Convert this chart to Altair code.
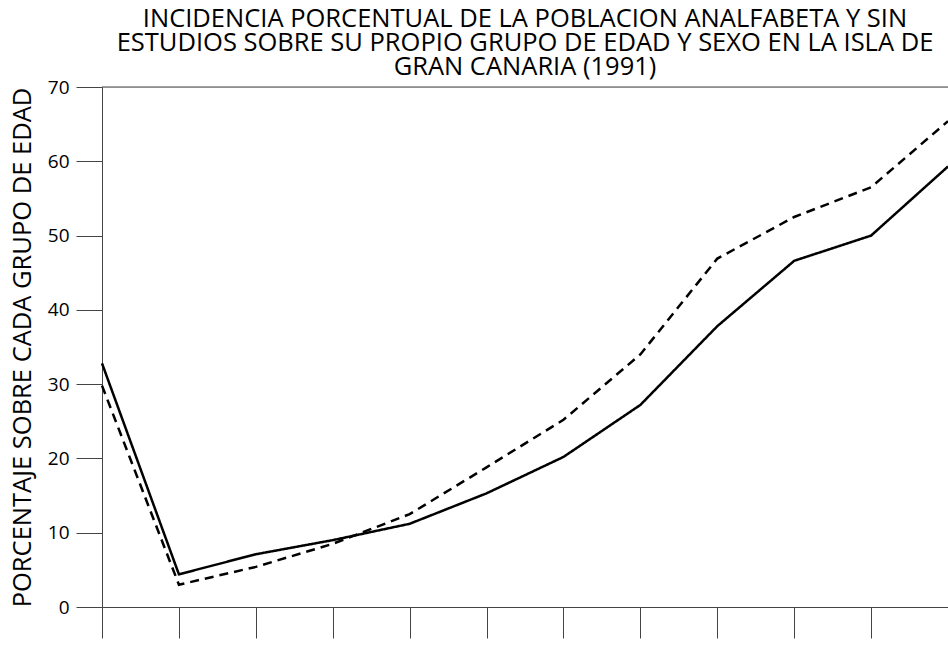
import altair as alt
import pandas as pd

# Age-group positions (no labels shown on the original x axis)
grupos = list(range(12))
serie_continua = [32.8, 4.4, 7.1, 9.0, 11.2, 15.3, 20.2, 27.2, 37.8, 46.6, 50.0, 59.3]
serie_discontinua = [29.8, 3.0, 5.4, 8.5, 12.5, 18.8, 25.2, 34.0, 46.9, 52.5, 56.5, 65.4]
y_ticks = [0, 10, 20, 30, 40, 50, 60, 70]

rows = []
for g, v in zip(grupos, serie_continua):
    rows.append({"grupo": g, "valor": v, "serie": "A"})
for g, v in zip(grupos, serie_discontinua):
    rows.append({"grupo": g, "valor": v, "serie": "B"})
df = pd.DataFrame(rows)

FONT = "Open Sans"
AXC = "#444444"

x_enc = alt.X(
    "grupo:Q",
    scale=alt.Scale(domain=[0, 11], nice=False, zero=False),
    axis=alt.Axis(
        values=grupos, labels=False, title=None, grid=False,
        tickSize=31, tickColor=AXC, domainColor=AXC, tickWidth=1, domainWidth=1,
    ),
)
y_enc = alt.Y(
    "valor:Q",
    scale=alt.Scale(domain=[0, 70], nice=False),
    axis=alt.Axis(
        values=y_ticks, grid=False, tickSize=26, tickColor=AXC, domainColor=AXC,
        tickWidth=1, domainWidth=1,
        labelFont=FONT, labelFontSize=19, labelColor="black", labelPadding=7,
        title="PORCENTAJE SOBRE CADA GRUPO DE EDAD",
        titleFont=FONT, titleFontSize=25.5, titleFontWeight="normal", titleColor="black",
        titleAngle=-90, titleBaseline="alphabetic", titleAlign="center",
        titleX=-72, titleY=260,
    ),
)

lines = alt.Chart(df).mark_line(strokeWidth=2.5, color="black").encode(
    x=x_enc,
    y=y_enc,
    strokeDash=alt.StrokeDash(
        "serie:N",
        scale=alt.Scale(domain=["A", "B"], range=[[1, 0], [9, 6]]),
        legend=None,
    ),
)

top = alt.Chart(pd.DataFrame({"v": [70]})).mark_rule(color=AXC, strokeWidth=1).encode(
    y=alt.Y("v:Q", scale=alt.Scale(domain=[0, 70], nice=False))
)

chart = (
    alt.layer(top, lines)
    .properties(
        width=846,
        height=520,
        autosize=alt.AutoSizeParams(type="none"),
        padding={"left": 102, "top": 87, "right": 0, "bottom": 45},
        title=alt.TitleParams(
            text=[
                "INCIDENCIA PORCENTUAL DE LA POBLACION ANALFABETA Y SIN",
                "ESTUDIOS SOBRE SU PROPIO GRUPO DE EDAD Y SEXO EN LA ISLA DE",
                "GRAN CANARIA (1991)",
            ],
            font=FONT, fontSize=25.5, fontWeight="normal", color="black",
            lineHeight=24, anchor="middle", baseline="bottom", offset=7, dy=34,
        ),
    )
    .configure_view(stroke=None)
    .configure(background="white")
)

chart.save("out.html", embed_options={"renderer": "svg", "actions": False})
